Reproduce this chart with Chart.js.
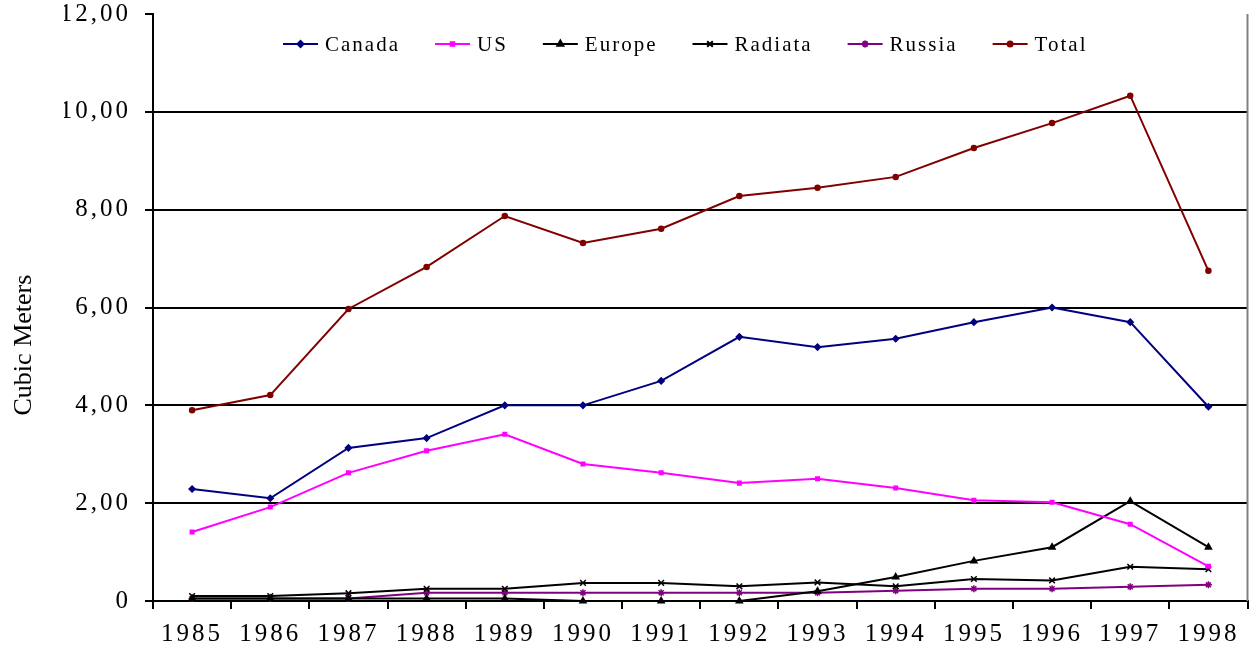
<!DOCTYPE html>
<html>
<head>
<meta charset="utf-8">
<script src="https://cdn.jsdelivr.net/npm/chart.js@4/dist/chart.umd.min.js"></script>
<style>
  body { margin: 0; background: #fff; }
</style>
</head>
<body>
<canvas id="woodChart" width="1253" height="650"></canvas>
<script>
const years = ["1985", "1986", "1987", "1988", "1989", "1990", "1991", "1992", "1993", "1994", "1995", "1996", "1997", "1998"];
const canada = [2.29, 2.1, 3.13, 3.33, 4.0, 4.0, 4.5, 5.4, 5.19, 5.36, 5.7, 6.0, 5.7, 3.97];
const us = [1.41, 1.92, 2.62, 3.07, 3.41, 2.8, 2.62, 2.41, 2.5, 2.31, 2.06, 2.02, 1.57, 0.71];
const europe = [0.05, 0.05, 0.05, 0.05, 0.05, 0, 0, 0, 0.2, 0.49, 0.82, 1.1, 2.04, 1.1];
const radiata = [0.1, 0.1, 0.16, 0.25, 0.25, 0.37, 0.37, 0.3, 0.38, 0.3, 0.45, 0.42, 0.7, 0.65];
const russia = [0.05, 0.05, 0.05, 0.17, 0.17, 0.17, 0.17, 0.17, 0.17, 0.21, 0.25, 0.25, 0.29, 0.33];
const total = [3.9, 4.21, 5.97, 6.83, 7.87, 7.32, 7.61, 8.28, 8.45, 8.67, 9.26, 9.77, 10.33, 6.75];
const yTitle = "Cubic Meters";

const serif = "'Liberation Serif', 'Times New Roman', serif";

function series(label, data, color, style, radius) {
  return {
    label: label,
    data: data,
    borderColor: color,
    backgroundColor: color,
    pointBorderColor: color,
    pointBackgroundColor: color,
    pointStyle: style,
    pointRadius: radius,
    pointBorderWidth: 1.5,
    borderWidth: 2,
    tension: 0,
    clip: false,
  };
}

// letter spaced text like the original
const spacing = {
  id: "spacing",
  beforeInit(chart) { chart.ctx.letterSpacing = "3px"; },
  beforeUpdate(chart) { chart.ctx.letterSpacing = "3px"; },
  beforeDraw(chart) { chart.ctx.letterSpacing = "3px"; },
};

// legend inside the plot area, line + marker
const innerLegend = {
  id: "innerLegend",
  afterDraw(chart) {
    const ctx = chart.ctx;
    const area = chart.chartArea;
    ctx.save();
    ctx.letterSpacing = "2px";
    ctx.font = "21px " + serif;
    ctx.textBaseline = "middle";
    const lineW = 35, gapText = 7, gapItem = 35;
    const sets = chart.data.datasets;
    let width = 0;
    sets.forEach((d, i) => {
      width += lineW + gapText + ctx.measureText(d.label).width + (i < sets.length - 1 ? gapItem : 0);
    });
    let x = (area.left + area.right) / 2 - width / 2 - 15;
    const y = area.top + 30;
    sets.forEach((d) => {
      ctx.strokeStyle = d.borderColor;
      ctx.lineWidth = 2;
      ctx.beginPath();
      ctx.moveTo(x, y);
      ctx.lineTo(x + lineW, y);
      ctx.stroke();
      ctx.fillStyle = d.borderColor;
      if (Chart.helpers && Chart.helpers.drawPoint) {
        Chart.helpers.drawPoint(ctx, { pointStyle: d.pointStyle, radius: d.pointRadius, rotation: 0, borderWidth: 1.5 }, x + lineW / 2, y);
      }
      ctx.fillStyle = "#000";
      ctx.fillText(d.label, x + lineW + gapText, y + 1);
      x += lineW + gapText + ctx.measureText(d.label).width + gapItem;
    });
    ctx.restore();
  },
};

// grey plot border on the right and the rotated axis title
const frame = {
  id: "frame",
  afterDraw(chart) {
    const ctx = chart.ctx;
    const area = chart.chartArea;
    ctx.save();
    ctx.strokeStyle = "#808080";
    ctx.lineWidth = 2;
    ctx.beginPath();
    ctx.moveTo(area.right, area.top);
    ctx.lineTo(area.right, area.bottom);
    ctx.stroke();
    ctx.letterSpacing = "0px";
    ctx.font = "26px " + serif;
    ctx.fillStyle = "#000";
    ctx.textAlign = "center";
    ctx.textBaseline = "middle";
    ctx.translate(24, area.top + (area.bottom - area.top) * 0.564);
    ctx.rotate(-Math.PI / 2);
    ctx.fillText(yTitle, 0, 0);
    ctx.restore();
  },
};

new Chart(document.getElementById("woodChart"), {
  type: "line",
  data: {
    labels: years,
    datasets: [
      series("Canada", canada, "#000080", "rectRot", 3),
      series("US", us, "#ff00ff", "rect", 2.5),
      series("Europe", europe, "#000000", "triangle", 3.5),
      series("Radiata", radiata, "#000000", "crossRot", 4),
      series("Russia", russia, "#800080", "star", 3.5),
      series("Total", total, "#800000", "circle", 2.5),
    ],
  },
  options: {
    responsive: false,
    animation: false,
    layout: { padding: { top: 0, right: 5, left: 64, bottom: 0 } },
    plugins: {
      legend: { display: false },
      tooltip: { enabled: false },
    },
    scales: {
      x: {
        offset: true,
        afterFit: (s) => { s.height = 49; s.paddingLeft = 0; s.paddingRight = 0; },
        grid: {
          offset: true,
          drawOnChartArea: false,
          drawTicks: true,
          tickLength: 8,
          color: "#000",
          lineWidth: 2,
        },
        border: { color: "#000", width: 2 },
        ticks: {
          color: "#000",
          padding: 10,
          maxRotation: 0,
          font: { family: serif, size: 25 },
        },
      },
      y: {
        min: 0,
        max: 12,
        afterFit: (s) => { s.width = 89; s.paddingTop = 14; s.paddingBottom = 0; },
        grid: {
          color: (c) => (c.tick && (c.tick.value === 12 || c.tick.value === 0) ? "rgba(0,0,0,0)" : "#000"),
          tickColor: "#000",
          lineWidth: 2,
          tickLength: 8,
        },
        border: { color: "#000", width: 2 },
        ticks: {
          stepSize: 2,
          color: "#000",
          padding: 14,
          font: { family: serif, size: 25 },
          callback: (v) => (v === 0 ? "0" : v.toFixed(2).replace(".", ",")),
        },
      },
    },
  },
  plugins: [spacing, innerLegend, frame],
});
</script>
</body>
</html>
